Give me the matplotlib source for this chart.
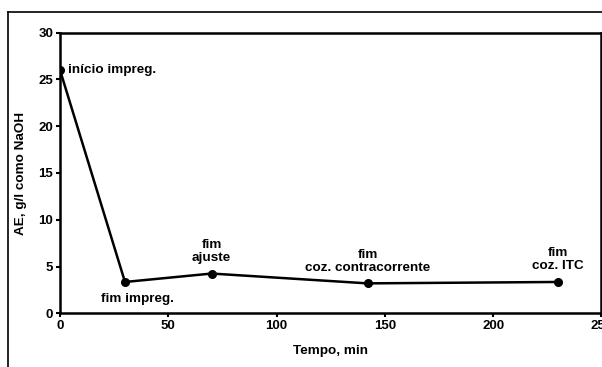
import matplotlib
matplotlib.use("Agg")
import matplotlib.pyplot as plt
from matplotlib.lines import Line2D

plt.rcParams['font.family'] = ['Liberation Sans', 'DejaVu Sans']
plt.rcParams['font.weight'] = 'bold'

# tempo (min) vs AE (g/l como NaOH)
tempo = [0, 30, 70, 142, 230]
ae = [26.0, 3.35, 4.25, 3.2, 3.35]
labels = ["início impreg.", "fim impreg.", "fim\najuste",
          "fim\ncoz. contracorrente", "fim\ncoz. ITC"]

fig = plt.figure(figsize=(6.02, 3.67), dpi=100)
ax = fig.add_axes([0.0997, 0.1463, 0.8993, 0.7647])

ax.plot(tempo, ae, color='black', lw=1.8, marker='o', ms=5.5)

ax.set_xlim(0, 250)
ax.set_ylim(0, 30)
ax.set_xticks([0, 50, 100, 150, 200, 250])
ax.set_yticks([0, 5, 10, 15, 20, 25, 30])
ax.tick_params(direction='out', length=3, width=1.5, labelsize=9.5, pad=2)
for s in ax.spines.values():
    s.set_linewidth(1.8)

ax.set_xlabel('Tempo, min', fontsize=9.7, fontweight='bold', labelpad=9)
ax.set_ylabel('AE, g/l como NaOH', fontsize=9.7, fontweight='bold', labelpad=8)

# anotações
fs = 9.7
ax.annotate(labels[0], (tempo[0], ae[0]), xytext=(6, 0), textcoords='offset points',
            ha='left', va='center', fontsize=fs, fontweight='bold')
ax.annotate(labels[1], (tempo[1], ae[1]), xytext=(9, -8), textcoords='offset points',
            ha='center', va='top', fontsize=fs, fontweight='bold')
for i in (2, 3, 4):
    ax.annotate(labels[i], (tempo[i], ae[i]), xytext=(0, 7), textcoords='offset points',
                ha='center', va='bottom', fontsize=fs, fontweight='bold',
                multialignment='center', linespacing=1.1)

# moldura externa
fig.add_artist(Line2D([8 / 602, 1], [1 - 12 / 367, 1 - 12 / 367], color='black', lw=1.2,
                      transform=fig.transFigure))
fig.add_artist(Line2D([8 / 602, 8 / 602], [0, 1 - 12 / 367], color='black', lw=1.2,
                      transform=fig.transFigure))

fig.savefig('out.png', dpi=100)
